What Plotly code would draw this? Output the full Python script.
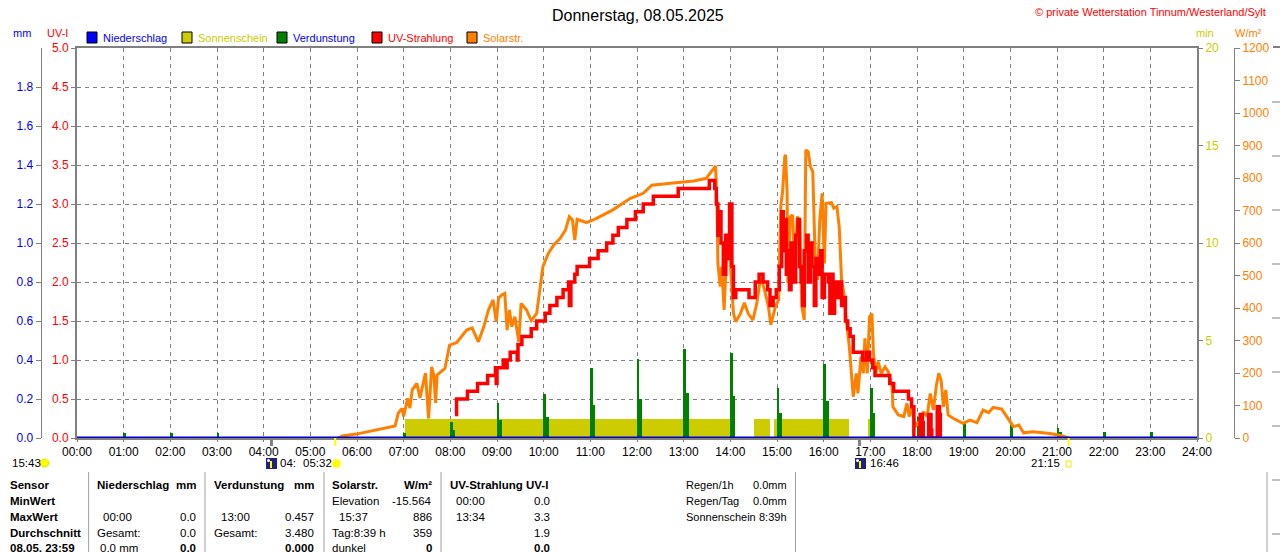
import plotly.graph_objects as go

# ---------------- data ----------------
hour_ticks = [0, 1, 2, 3, 4, 5, 6, 7, 8, 9, 10, 11, 12, 13, 14, 15, 16, 17, 18, 19, 20, 21, 22, 23, 24]
hour_labels = ["00:00", "01:00", "02:00", "03:00", "04:00", "05:00", "06:00", "07:00", "08:00",
               "09:00", "10:00", "11:00", "12:00", "13:00", "14:00", "15:00", "16:00", "17:00",
               "18:00", "19:00", "20:00", "21:00", "22:00", "23:00", "24:00"]

uv_ticks = [0.0, 0.5, 1.0, 1.5, 2.0, 2.5, 3.0, 3.5, 4.0, 4.5, 5.0]
mm_ticks = [0.0, 0.2, 0.4, 0.6, 0.8, 1.0, 1.2, 1.4, 1.6, 1.8]
min_ticks = [0, 5, 10, 15, 20]
wm2_ticks = [0, 100, 200, 300, 400, 500, 600, 700, 800, 900, 1000, 1100, 1200]

# Solarstrahlung (W/m²)
solar_time = ["05:36", "05:41", "05:59", "06:17", "06:34", "06:49", "06:53", "06:58", "07:00",
              "07:05", "07:08", "07:11", "07:17", "07:21", "07:28", "07:32", "07:36", "07:39", "07:41",
              "07:43", "07:53", "07:59", "08:08", "08:21", "08:28", "08:36", "08:43", "08:49", "08:55",
              "08:59", "09:02", "09:06", "09:10", "09:13", "09:16", "09:19", "09:23", "09:28", "09:31",
              "09:38", "09:44", "09:51", "09:55", "09:59", "10:06", "10:13", "10:21", "10:28", "10:33",
              "10:37", "10:40", "10:43", "10:55", "11:08", "11:29", "11:51", "12:08", "12:19", "12:43",
              "13:13", "13:29", "13:38", "13:41", "13:43", "13:44", "13:47", "13:49", "13:52", "13:55",
              "13:58", "14:01", "14:04", "14:07", "14:13", "14:18", "14:23", "14:29", "14:34", "14:39",
              "14:44", "14:49", "14:52", "14:58", "15:02", "15:05", "15:07", "15:10", "15:11", "15:13",
              "15:14", "15:17", "15:20", "15:23", "15:26", "15:29", "15:32", "15:35", "15:37", "15:40",
              "15:43", "15:46", "15:49", "15:52", "15:55", "15:58", "16:01", "16:03", "16:10", "16:13",
              "16:17", "16:20", "16:23", "16:26", "16:29", "16:33", "16:36", "16:38", "16:42", "16:44",
              "16:48", "16:51", "16:53", "16:56", "16:59", "17:02", "17:04", "17:07", "17:10", "17:14",
              "17:19", "17:23", "17:28", "17:29", "17:36", "17:43", "17:47", "17:50", "17:53", "17:58",
              "18:04", "18:08", "18:13", "18:17", "18:21", "18:25", "18:28", "18:31", "18:34", "18:37",
              "18:40", "18:47", "18:59", "19:08", "19:17", "19:25", "19:32", "19:38", "19:49", "19:58",
              "20:04", "20:11", "20:17", "20:29", "20:51", "21:06", "21:15"]
solar_wm2 = [0, 6, 12, 21, 30, 37, 76, 91, 66,
             122, 92, 148, 168, 123, 200, 60, 219, 189, 108,
             194, 214, 286, 293, 332, 339, 296, 342, 394, 425,
             358, 430, 440, 445, 332, 394, 342, 373, 296, 414,
             394, 361, 383, 455, 527, 568, 594, 614, 640, 681,
             671, 609, 673, 663, 676, 702, 737, 753, 778, 784,
             791, 799, 830, 837, 700, 537, 466, 527, 394, 558,
             619, 486, 383, 358, 383, 416, 383, 363, 414, 496,
             455, 404, 348, 404, 425, 717, 753, 866, 871, 753,
             476, 681, 686, 507, 681, 671, 404, 363, 886, 881,
             835, 820, 558, 486, 671, 753, 537, 722, 724, 707,
             712, 650, 486, 445, 363, 281, 199, 127, 199, 137,
             250, 199, 307, 199, 373, 383, 260, 199, 235, 199,
             219, 204, 158, 96, 71, 66, 107, 66, 96, 35,
             55, 81, 66, 137, 86, 163, 199, 178, 96, 148,
             71, 60, 45, 55, 47, 86, 78, 94, 89, 55,
             35, 40, 16, 19, 14, 7, 0]

# UV-Strahlung (UV-I), step data
uv_time = ["08:06", "08:08", "08:22", "08:35", "08:48", "08:58", "08:59", "09:00", "09:08",
           "09:11", "09:13", "09:17", "09:26", "09:27", "09:32", "09:44", "09:51", "10:02", "10:08",
           "10:17", "10:25", "10:32", "10:33", "10:35", "10:40", "10:43", "10:59", "11:10", "11:21",
           "11:29", "11:36", "11:47", "11:58", "12:08", "12:21", "12:53", "13:33", "13:40", "13:42",
           "13:44", "13:46", "13:48", "13:51", "13:54", "13:57", "13:59", "14:02", "14:04", "14:07",
           "14:24", "14:32", "14:37", "14:42", "14:48", "14:51", "14:55", "14:59", "15:03", "15:06",
           "15:08", "15:10", "15:12", "15:14", "15:16", "15:18", "15:21", "15:24", "15:27", "15:29",
           "15:31", "15:33", "15:35", "15:38", "15:40", "15:43", "15:45", "15:48", "15:50", "15:53",
           "15:56", "15:58", "16:01", "16:06", "16:08", "16:10", "16:12", "16:14", "16:17", "16:20",
           "16:23", "16:25", "16:28", "16:31", "16:34", "16:38", "16:50", "16:55", "16:59", "17:03",
           "17:06", "17:25", "17:30", "17:49", "17:53", "17:56", "18:04", "18:07", "18:08", "18:15",
           "18:18", "18:19", "18:26", "18:29", "18:30"]
uv_index = [0.3, 0.5, 0.6, 0.7, 0.8, 0.9, 0.7, 0.9, 1.0,
            0.9, 1.0, 1.1, 1.0, 1.2, 1.3, 1.4, 1.5, 1.6, 1.7,
            1.8, 1.9, 2.0, 1.7, 2.0, 2.1, 2.2, 2.3, 2.4, 2.5,
            2.6, 2.7, 2.8, 2.9, 3.0, 3.1, 3.2, 3.3, 3.2, 3.0,
            2.6, 2.9, 2.5, 2.1, 2.6, 2.3, 3.0, 2.2, 1.8, 1.9,
            1.8, 2.0, 2.1, 2.0, 1.9, 1.7, 1.8, 1.9, 2.2, 2.9,
            2.4, 2.8, 2.1, 2.4, 1.9, 2.5, 2.0, 2.6, 2.8, 2.2,
            2.0, 1.7, 2.4, 2.6, 2.0, 2.5, 2.2, 1.7, 2.3, 2.1,
            2.4, 1.8, 2.1, 2.0, 1.6, 2.1, 1.6, 2.0, 1.8, 2.0,
            1.7, 1.8, 1.5, 1.4, 1.3, 1.1, 1.0, 1.1, 1.0, 0.9,
            0.8, 0.7, 0.6, 0.5, 0.4, 0.0, 0.3, 0.2, 0.0, 0.3,
            0.1, 0.0, 0.4, 0.3, 0.0]

# Sonnenschein (min per minute)
sun_start = ["07:02", "14:30", "14:56", "16:57"]
sun_end = ["14:04", "14:51", "16:32", "17:06"]
sun_min = [1, 1, 1, 1]

# Verdunstung (mm), hourly spikes and the shorter part right after
evap_time = ["01:00", "02:00", "03:00", "07:00", "08:00", "09:00", "10:00", "11:00", "12:00", "13:00",
             "14:00", "15:00", "16:00", "17:00", "18:00", "19:00", "20:00", "21:00", "22:00", "23:00"]
evap_mm = [0.025, 0.025, 0.025, 0.027, 0.08, 0.18, 0.227, 0.357, 0.407, 0.457,
           0.434, 0.258, 0.381, 0.258, 0.106, 0.078, 0.078, 0.053, 0.03, 0.03]
evap_part_mm = [0, 0, 0, 0, 0.04, 0.09, 0.11, 0.17, 0.20, 0.23,
                0.215, 0.13, 0.19, 0.13, 0.05, 0, 0, 0.03, 0, 0]

# Niederschlag (mm)
rain_time = ["00:00", "24:00"]
rain_mm = [0.0, 0.0]

# ---------------- helpers ----------------
W, H = 1280, 552


def th(s):
    h, m = s.split(":")
    return int(h) + int(m) / 60.0


def PX(x):
    return x / W


def PY(y):
    return 1 - y / H


FONT = "Liberation Sans, Arial, sans-serif"
GREY = "#808080"
OLIVE = "#CCCC00"
ORANGE = "#FF8000"

fig = go.Figure()

# anchor trace for the main subplot
fig.add_trace(go.Scatter(x=[0, 24], y=[0, 0], yaxis="y", mode="lines",
                         line=dict(width=0, color="rgba(0,0,0,0)"), hoverinfo="skip", showlegend=False))

# Sonnenschein
sx = [th(s) for s in sun_start]
sw = [th(e) - th(s) for s, e in zip(sun_start, sun_end)]
fig.add_trace(go.Bar(x=sx, y=sun_min, width=sw, offset=0, yaxis="y2",
                     marker=dict(color=OLIVE, line=dict(width=0)), showlegend=False))

# Verdunstung
ex = [th(t) for t in evap_time]
fig.add_trace(go.Bar(x=ex, y=evap_mm, width=[0.06] * len(ex), offset=-0.01, yaxis="y3",
                     marker=dict(color="#008000", line=dict(width=0)), showlegend=False))
fig.add_trace(go.Bar(x=ex, y=evap_part_mm, width=[0.06] * len(ex), offset=0.045, yaxis="y3",
                     marker=dict(color="#008000", line=dict(width=0)), showlegend=False))

# Solarstrahlung
fig.add_trace(go.Scatter(x=[th(t) for t in solar_time], y=solar_wm2, yaxis="y4", mode="lines",
                         line=dict(color=ORANGE, width=3), showlegend=False))

# UV-Strahlung
fig.add_trace(go.Scatter(x=[th(t) for t in uv_time], y=uv_index, yaxis="y5", mode="lines",
                         line=dict(color="#FF0000", width=3.5, shape="hv"), showlegend=False))

# Niederschlag
fig.add_trace(go.Scatter(x=[th(t) for t in rain_time], y=rain_mm, yaxis="y6", mode="lines",
                         line=dict(color="#0000CC", width=3), showlegend=False))

fig.update_layout(
    width=W, height=H,
    margin=dict(l=0, r=0, t=0, b=0, pad=0, autoexpand=False),
    paper_bgcolor="white", plot_bgcolor="white",
    barmode="overlay", bargap=0,
    showlegend=False,
    xaxis=dict(domain=[PX(77), PX(1197)], range=[0, 24], tickvals=hour_ticks, ticktext=hour_labels,
               automargin=False,
               showgrid=True, gridcolor=GREY, griddash="4px,4px", gridwidth=1,
               showline=True, linecolor=GREY, linewidth=2, mirror=True,
               ticks="outside", ticklen=2, tickcolor=GREY, zeroline=False,
               tickfont=dict(family=FONT, size=12, color="black")),
    yaxis=dict(domain=[PY(438), PY(48)], range=[0, 5], tickvals=uv_ticks, tickformat=".1f",
               automargin=False,
               showgrid=True, gridcolor=GREY, griddash="4px,4px", gridwidth=1,
               showline=True, linecolor=GREY, linewidth=2, ticks="outside", ticklen=4, tickcolor=GREY,
               zeroline=False, tickfont=dict(family=FONT, size=12, color="#FF0000")),
    yaxis2=dict(overlaying="y", side="right", anchor="x", range=[0, 20], tickvals=min_ticks,
                automargin=False,
                showgrid=False, zeroline=False, showline=True, linecolor=GREY, linewidth=2,
                ticks="outside", ticklen=4, tickcolor=GREY,
                tickfont=dict(family=FONT, size=12, color=OLIVE)),
    yaxis3=dict(overlaying="y", side="left", anchor="free", position=PX(40.7), range=[0, 2],
                automargin=False,
                tickvals=mm_ticks, tickformat=".1f", showgrid=False, zeroline=False,
                showline=True, linecolor=GREY, linewidth=1, ticks="outside", ticklen=5, tickcolor=GREY,
                tickfont=dict(family=FONT, size=12, color="#0000FF")),
    yaxis4=dict(overlaying="y", side="right", anchor="free", position=PX(1234), range=[0, 1200],
                automargin=False,
                tickvals=wm2_ticks, showgrid=False, zeroline=False,
                showline=True, linecolor=GREY, linewidth=1, ticks="outside", ticklen=5, tickcolor=GREY,
                tickfont=dict(family=FONT, size=12, color=ORANGE)),
    yaxis5=dict(overlaying="y", range=[0, 5], visible=False, automargin=False),
    yaxis6=dict(overlaying="y", range=[0, 2], visible=False, automargin=False),
)

ann = []


def txt(x, y, s, color="black", size=12, anchor="left", bold=False):
    if bold:
        s = "<b>" + s + "</b>"
    ann.append(dict(x=PX(x), y=PY(y), xref="paper", yref="paper", text=s, showarrow=False,
                    xanchor=anchor, yanchor="middle",
                    font=dict(family=FONT, size=size, color=color)))


# title and copyright
txt(638, 15, "Donnerstag, 08.05.2025", size=16, anchor="center")
txt(1268, 12, "© private Wetterstation Tinnum/Westerland/Sylt", color="#FF0000", size=11, anchor="right")

# axis titles
txt(22, 33, "mm", color="#0000FF", size=11, anchor="center")
txt(57, 33, "UV-I", color="#FF0000", size=11, anchor="center")
txt(1205, 33, "min", color=OLIVE, size=11, anchor="center")
txt(1248, 33, "W/m²", color=ORANGE, size=11, anchor="center")

# legend
legend = [(87, "Niederschlag", "#0000FF", "#0000FF"),
          (182, "Sonnenschein", OLIVE, OLIVE),
          (277, "Verdunstung", "#008000", "#0000FF"),
          (372, "UV-Strahlung", "#FF0000", "#FF0000"),
          (467, "Solarstr.", ORANGE, ORANGE)]
shapes = []
for lx, name, sq, tc in legend:
    shapes.append(dict(type="rect", xref="paper", yref="paper", x0=PX(lx), x1=PX(lx + 10),
                       y0=PY(43), y1=PY(32), fillcolor=sq, line=dict(color="black", width=1)))
    txt(lx + 14, 38, name, color=tc, size=11)

# table
TS = 11.5
rows = [485, 501, 517, 533, 548]
for y, s in zip(rows, ["Sensor", "MinWert", "MaxWert", "Durchschnitt", "08.05. 23:59"]):
    txt(8, y, s, bold=True, size=TS)
txt(95, rows[0], "Niederschlag", bold=True, size=TS)
txt(198, rows[0], "mm", bold=True, anchor="right", size=TS)
txt(101, rows[2], "00:00", size=TS)
txt(198, rows[2], "0.0", anchor="right", size=TS)
txt(95, rows[3], "Gesamt:", size=TS)
txt(198, rows[3], "0.0", anchor="right", size=TS)
txt(98, rows[4], "0.0 mm", size=TS)
txt(198, rows[4], "0.0", anchor="right", bold=True, size=TS)

txt(212, rows[0], "Verdunstung", bold=True, size=TS)
txt(316, rows[0], "mm", bold=True, anchor="right", size=TS)
txt(219, rows[2], "13:00", size=TS)
txt(316, rows[2], "0.457", anchor="right", size=TS)
txt(212, rows[3], "Gesamt:", size=TS)
txt(316, rows[3], "3.480", anchor="right", size=TS)
txt(316, rows[4], "0.000", anchor="right", bold=True, size=TS)

txt(330, rows[0], "Solarstr.", bold=True, size=TS)
txt(434, rows[0], "W/m²", bold=True, anchor="right", size=TS)
txt(330, rows[1], "Elevation", size=TS)
txt(434, rows[1], "-15.564", anchor="right", size=TS)
txt(337, rows[2], "15:37", size=TS)
txt(434, rows[2], "886", anchor="right", size=TS)
txt(330, rows[3], "Tag:8:39 h", size=TS)
txt(434, rows[3], "359", anchor="right", size=TS)
txt(330, rows[4], "dunkel", size=TS)
txt(434, rows[4], "0", anchor="right", bold=True, size=TS)

txt(448, rows[0], "UV-Strahlung UV-I", bold=True, size=TS)
txt(454, rows[1], "00:00", size=TS)
txt(552, rows[1], "0.0", anchor="right", size=TS)
txt(454, rows[2], "13:34", size=TS)
txt(552, rows[2], "3.3", anchor="right", size=TS)
txt(552, rows[3], "1.9", anchor="right", size=TS)
txt(552, rows[4], "0.0", anchor="right", bold=True, size=TS)

txt(684, rows[0], "Regen/1h", size=11)
txt(789, rows[0], "0.0mm", anchor="right", size=11)
txt(684, rows[1], "Regen/Tag", size=11)
txt(789, rows[1], "0.0mm", anchor="right", size=11)
txt(684, rows[2], "Sonnenschein", size=11)
txt(789, rows[2], "8:39h", anchor="right", size=11)

for vx in [88.6, 205, 324, 441, 795.5, 1267]:
    shapes.append(dict(type="line", xref="paper", yref="paper", x0=PX(vx), x1=PX(vx),
                       y0=PY(472), y1=PY(560), line=dict(color="#A0A0A0", width=1)))

# sun / moon markers under the time axis
for t, col, w in [("04:10", GREY, 3), ("16:46", GREY, 3), ("05:32", "#FFFF00", 2), ("21:15", "#FFFF00", 2)]:
    shapes.append(dict(type="line", xref="x", yref="paper", x0=th(t), x1=th(t),
                       y0=PY(446), y1=PY(438), line=dict(color=col, width=w)))

MS = 11.5
txt(10, 463, "15:43", size=MS)
shapes.append(dict(type="circle", xref="paper", yref="paper", x0=PX(40), x1=PX(49),
                   y0=PY(467), y1=PY(459), fillcolor="#FFFF00", line=dict(color="#E0E000", width=1)))
for mx in [266, 855]:
    shapes.append(dict(type="rect", xref="paper", yref="paper", x0=PX(mx), x1=PX(mx + 11),
                       y0=PY(469), y1=PY(458), fillcolor="#202080", line=dict(width=0)))
    shapes.append(dict(type="line", xref="paper", yref="paper", x0=PX(mx + 5), x1=PX(mx + 5),
                       y0=PY(468), y1=PY(461), line=dict(color="#FFFF00", width=2)))
    shapes.append(dict(type="circle", xref="paper", yref="paper", x0=PX(mx + 1), x1=PX(mx + 4),
                       y0=PY(462), y1=PY(459), fillcolor="white", line=dict(width=0)))
txt(278, 463, "04:", size=MS)
txt(301, 463, "05:32", size=MS)
shapes.append(dict(type="circle", xref="paper", yref="paper", x0=PX(332), x1=PX(341),
                   y0=PY(468), y1=PY(459), fillcolor="#FFFF00", line=dict(color="#FFFF80", width=1)))
txt(868, 463, "16:46", size=MS)
txt(1062, 463, "21:15", anchor="right", size=MS)
shapes.append(dict(type="rect", xref="paper", yref="paper", x0=PX(1066), x1=PX(1071),
                   y0=PY(467), y1=PY(461), fillcolor="white", line=dict(color="#E8E800", width=1)))

# edge of the neighbouring panel at the far right
shapes.append(dict(type="line", xref="paper", yref="paper", x0=PX(1273), x1=PX(1281),
                   y0=PY(47), y1=PY(47), line=dict(color=GREY, width=2)))
for dy in [102, 156, 210, 264, 318, 372, 426, 480, 534]:
    shapes.append(dict(type="line", xref="paper", yref="paper", x0=PX(1272), x1=PX(1280),
                       y0=PY(dy), y1=PY(dy), line=dict(color=GREY, width=1)))

fig.update_layout(annotations=ann, shapes=shapes)

fig.write_html("out.html",
               config={"displayModeBar": False},
               post_script="document.body.style.margin='0';document.body.style.padding='0';"
                           "document.body.style.overflow='hidden';")
